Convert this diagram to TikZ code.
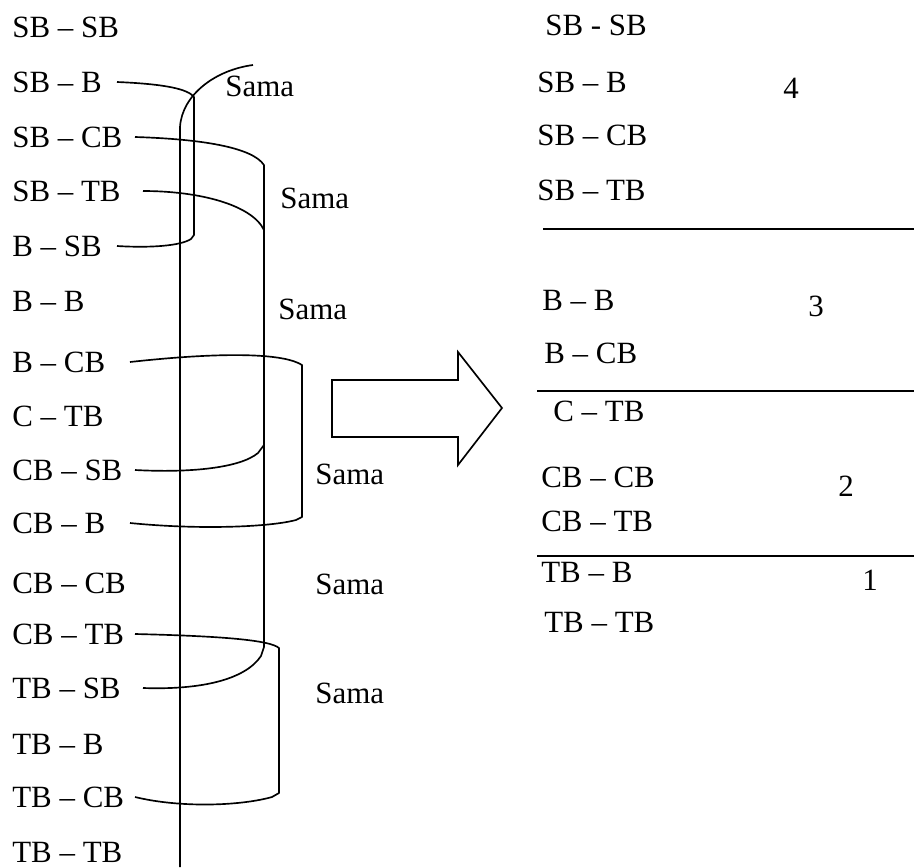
\documentclass[tikz,border=0pt]{standalone}
\usepackage{fontspec}
\setmainfont{Liberation Serif}
\begin{document}
\begin{tikzpicture}[x=0.02cm,y=-0.02cm,
  lbl/.style={font=\fontsize{17.6}{21}\selectfont, inner sep=0pt, anchor=west},
  num/.style={font=\fontsize{17.6}{21}\selectfont, inner sep=0pt},
  conn/.style={line width=0.95pt, line join=round},
  sep/.style={line width=1.3pt}]
\useasboundingbox (0,0) rectangle (914,867);
% left column
\node[lbl] (l1) at (12,27) {SB – SB};
\node[lbl] (l2) at (12,82) {SB – B};
\node[lbl] (l3) at (12,137) {SB – CB};
\node[lbl] (l4) at (12,191) {SB – TB};
\node[lbl] (l5) at (12,246) {B – SB};
\node[lbl] (l6) at (12,301) {B – B};
\node[lbl] (l7) at (12,362) {B – CB};
\node[lbl] (l8) at (12,416) {C – TB};
\node[lbl] (l9) at (12,470) {CB – SB};
\node[lbl] (l10) at (12,523) {CB – B};
\node[lbl] (l11) at (12,583) {CB – CB};
\node[lbl] (l12) at (12,634) {CB – TB};
\node[lbl] (l13) at (12,688) {TB – SB};
\node[lbl] (l14) at (12,744) {TB – B};
\node[lbl] (l15) at (12,797) {TB – CB};
\node[lbl] (l16) at (12,852) {TB – TB};
% Sama labels
\node[lbl] (s1) at (225,86) {Sama};
\node[lbl] (s2) at (280,198) {Sama};
\node[lbl] (s3) at (278,309) {Sama};
\node[lbl] (s4) at (315,474) {Sama};
\node[lbl] (s5) at (315,584) {Sama};
\node[lbl] (s6) at (315,693) {Sama};
% connectors
\coordinate (atop) at (253,65);
\coordinate (abot) at (180,867);
\draw[conn] (atop) .. controls (215,70) and (182,95) .. (180,127) -- (abot);
\draw[conn] (l2.east -| 117,0) .. controls (165,84) and (188,89) .. (194,97)
  -- (194,235) -- (191,239) .. controls (180,246) and (150,248) .. (l5.east -| 117,0);
\draw[conn] (l3.east -| 135,0) .. controls (200,139) and (252,147) .. (264,165)
  -- (264,647) -- (261,656) .. controls (245,680) and (200,690) .. (l13.east -| 143,0);
\draw[conn] (l4.east -| 143,0) .. controls (200,191) and (252,205) .. (264,230);
\draw[conn] (264,445) -- (258,453) .. controls (240,468) and (190,473) .. (l9.east -| 135,0);
\draw[conn] (l7.east -| 130,0) .. controls (230,351) and (285,354) .. (302,365)
  -- (302,517) -- (296,520) .. controls (270,527) and (200,530) .. (l10.east -| 130,0);
\draw[conn] (l12.east -| 135,0) .. controls (220,636) and (270,640) .. (279,648)
  -- (279,793) -- (272,797) .. controls (240,806) and (180,808) .. (l15.east -| 135,0);
% big arrow
\draw[conn, line join=miter] (332,380) -- (458,380) -- (458,352) -- (502,408) -- (458,465) -- (458,437) -- (332,437) -- cycle;
% right column
\node[lbl] (r1) at (545,25) {SB - SB};
\node[lbl] (r2) at (537,82) {SB – B};
\node[lbl] (r3) at (537,135) {SB – CB};
\node[lbl] (r4) at (537,190) {SB – TB};
\node[lbl] (r5) at (542,300) {B – B};
\node[lbl] (r6) at (544,353) {B – CB};
\node[lbl] (r7) at (553,411) {C – TB};
\node[lbl] (r8) at (541,477) {CB – CB};
\node[lbl] (r9) at (541,521) {CB – TB};
\node[lbl] (r10) at (541,572) {TB – B};
\node[lbl] (r11) at (544,622) {TB – TB};
\node[num] (n4) at (791,88) {4};
\node[num] (n3) at (816,306) {3};
\node[num] (n2) at (846,486) {2};
\node[num] (n1) at (870,580) {1};
\draw[sep] (543,229) -- (914,229);
\draw[sep] (537,391) -- (914,391);
\draw[sep] (537,556) -- (914,556);
\end{tikzpicture}
\end{document}
